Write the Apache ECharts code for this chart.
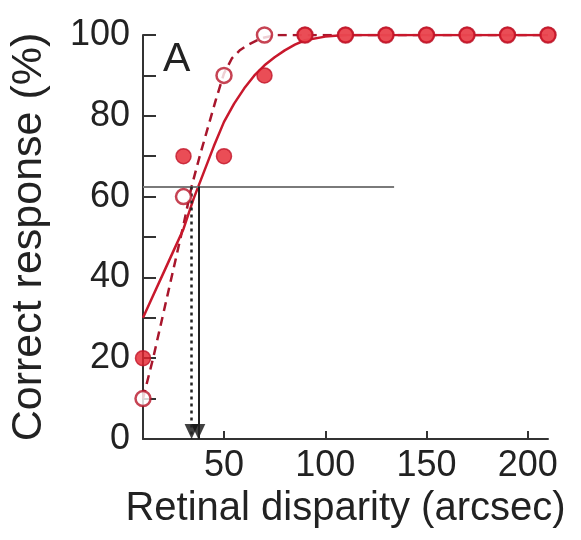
<!DOCTYPE html>
<html>
<head>
<meta charset="utf-8">
<script src="https://cdn.jsdelivr.net/npm/echarts@6/dist/echarts.min.js"></script>
<style>
  html, body { margin: 0; padding: 0; background: #fff; }
  #chart { width: 581px; height: 540px; }
</style>
</head>
<body>
<div id="chart"></div>
<script>
// Retinal disparity (arcsec) tested
const disparity = [10, 30, 50, 70, 90, 110, 130, 150, 170, 190, 210];
// Percent correct, filled symbols (solid fit)
const filledResp = [20, 70, 70, 90, 100, 100, 100, 100, 100, 100, 100];
// Percent correct, open symbols (dashed fit)
const openResp = [10, 60, 90, 100, 100, 100, 100, 100, 100, 100, 100];

// Psychometric fit, solid curve
const solidFitX = [10, 15, 20, 25, 30, 35, 40, 45, 50, 55, 60, 65, 70, 75, 80, 85, 90, 100, 110, 210];
const solidFitY = [30, 35.5, 41, 46.5, 52, 59.5, 66, 72.5, 78.5, 83, 86.8, 90, 92.5, 94.5, 96.2, 97.6, 98.7, 99.6, 100, 100];
// Psychometric fit, dashed curve
const dashFitX = [10, 15, 20, 25, 30, 34, 38, 42, 46, 50, 54, 58, 62, 66, 70, 76, 210];
const dashFitY = [10, 20, 31, 42, 53, 62.5, 70, 77, 84, 90.5, 94.3, 96.3, 97.6, 98.6, 99.4, 100, 100];

// Threshold criterion and the disparities where each fit reaches it
const criterion = 62.5;
const criterionLineEnd = 134;
const thresholdSolid = 37.3;
const thresholdDashed = 34;

const xTicks = [50, 100, 150, 200];
const yTickLabels = [0, 20, 40, 60, 80, 100];

const pair = (xs, ys) => xs.map((x, i) => [x, ys[i]]);

const FONT = 'Liberation Sans';
const RED = '#e5202c';

const chart = echarts.init(document.getElementById('chart'), null, { renderer: 'canvas' });

chart.setOption({
  backgroundColor: '#ffffff',
  animation: false,
  title: {
    text: 'A',
    left: 158,
    top: 34,
    textStyle: { fontFamily: FONT, fontSize: 41, fontWeight: 'normal', color: '#222' }
  },
  grid: { left: 141, right: 33, top: 35, bottom: 101 },
  xAxis: {
    type: 'value',
    min: 10,
    max: 210,
    name: 'Retinal disparity (arcsec)',
    nameLocation: 'middle',
    nameGap: 46,
    nameTextStyle: { fontFamily: FONT, fontSize: 40, color: '#222' },
    axisLine: { show: true, onZero: false, lineStyle: { color: '#333', width: 2 } },
    axisTick: { show: true, inside: true, length: 8, customValues: xTicks, lineStyle: { color: '#333', width: 2 } },
    axisLabel: { customValues: xTicks, margin: 9, fontFamily: FONT, fontSize: 36, color: '#222' },
    splitLine: { show: false }
  },
  yAxis: {
    type: 'value',
    min: 0,
    max: 100,
    interval: 10,
    name: 'Correct response (%)',
    nameLocation: 'middle',
    nameGap: 92,
    nameTextStyle: { fontFamily: FONT, fontSize: 43, color: '#222' },
    axisLine: { show: true, lineStyle: { color: '#333', width: 2 } },
    axisTick: { show: true, inside: true, length: 13, lineStyle: { color: '#333', width: 2 } },
    axisLabel: { customValues: yTickLabels, margin: 13, fontFamily: FONT, fontSize: 36, color: '#222' },
    splitLine: { show: false }
  },
  series: [
    {
      // criterion line and threshold drop lines
      type: 'line',
      data: [],
      silent: true,
      markLine: {
        silent: true,
        symbol: 'none',
        label: { show: false },
        data: [
          [{ coord: [10, criterion], lineStyle: { color: '#7a7a7a', width: 2, type: 'solid' } },
           { coord: [criterionLineEnd, criterion] }],
          [{ coord: [thresholdSolid, criterion], lineStyle: { color: '#222', width: 2, type: 'solid' } },
           { coord: [thresholdSolid, 0] }],
          [{ coord: [thresholdDashed, criterion], lineStyle: { color: '#222', width: 2.5, type: [3, 4] } },
           { coord: [thresholdDashed, 0] }]
        ]
      },
      z: 1
    },
    {
      type: 'line',
      data: pair(dashFitX, dashFitY),
      smooth: false,
      showSymbol: false,
      lineStyle: { color: '#a8162c', width: 2.5, type: [9, 6] },
      z: 2
    },
    {
      type: 'line',
      data: pair(solidFitX, solidFitY),
      smooth: false,
      showSymbol: false,
      lineStyle: { color: '#c8182c', width: 2.5 },
      z: 3
    },
    {
      // threshold arrowheads
      type: 'scatter',
      data: [[thresholdDashed, 0], [thresholdSolid, 0]],
      symbol: 'triangle',
      symbolRotate: 180,
      symbolSize: [14, 15],
      symbolOffset: [0, '-50%'],
      itemStyle: { color: '#111' },
      z: 4
    },
    {
      type: 'scatter',
      data: pair(disparity, openResp),
      symbol: 'circle',
      symbolSize: 15,
      itemStyle: { color: '#fff', borderColor: '#b81428', borderWidth: 2.5 },
      z: 5
    },
    {
      type: 'scatter',
      data: pair(disparity, filledResp),
      symbol: 'circle',
      symbolSize: 15,
      itemStyle: { color: RED, borderColor: '#c01428', borderWidth: 1.5 },
      z: 6
    }
  ]
});
</script>
</body>
</html>
